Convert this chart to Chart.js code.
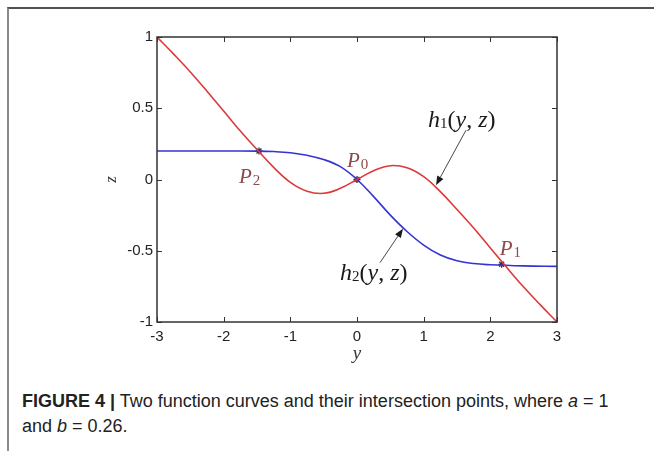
<!DOCTYPE html>
<html>
<head>
<meta charset="utf-8">
<script src="https://cdn.jsdelivr.net/npm/chart.js@4.4.1/dist/chart.umd.min.js"></script>
<style>
  html, body { margin: 0; padding: 0; background: #fff; }
  body { width: 654px; height: 451px; position: relative; overflow: hidden; }
  #frame {
    position: absolute; left: 7px; top: 7px; right: 0; bottom: 0;
    border-top: 2px solid #505050; border-left: 2px solid #8a8a8a;
  }
  #wrap { position: absolute; left: 0; top: 0; width: 654px; height: 370px; }
  #caption {
    position: absolute; left: 22px; top: 389px; width: 625px;
    font-family: "Liberation Sans", Arial, sans-serif; font-size: 18px;
    line-height: 25px; color: #222; white-space: nowrap;
  }
  #caption b { font-weight: bold; }
</style>
</head>
<body>
<div id="frame"></div>
<div id="wrap"><canvas id="curves" width="654" height="370"></canvas></div>
<div id="caption"><b>FIGURE 4 |</b> Two function curves and their intersection points, where <i>a</i> = 1<br>and <i>b</i> = 0.26.</div>
<script>
// h1(y, z) = 0 curve (red)
const h1Y = [-3, -2.75, -2.5, -2.25, -2, -1.75, -1.5, -1.25, -1, -0.75, -0.5, -0.25, 0,
             0.25, 0.5, 0.75, 1, 1.25, 1.5, 1.75, 2, 2.25, 2.5, 2.75, 3];
const h1Z = [1.0, 0.88, 0.755, 0.62, 0.48, 0.34, 0.21, 0.085, -0.02, -0.082, -0.097, -0.062, 0,
             0.062, 0.097, 0.082, 0.02, -0.085, -0.21, -0.34, -0.48, -0.62, -0.755, -0.88, -1.0];

// h2(y, z) = 0 curve (blue)
const h2Y = [-3, -2.5, -2, -1.5, -1.25, -1, -0.75, -0.5, -0.25, 0,
             0.25, 0.5, 0.75, 1, 1.25, 1.5, 1.75, 2, 2.5, 3];
const h2Z = [0.2, 0.2, 0.2, 0.199, 0.196, 0.188, 0.17, 0.14, 0.09, 0,
             -0.12, -0.25, -0.365, -0.46, -0.53, -0.57, -0.59, -0.598, -0.606, -0.61];

// intersection points
const ptNames = ['2', '0', '1'];
const ptY = [-1.47, 0, 2.17];
const ptZ = [0.2, 0, -0.595];

// axis ticks
const yTicks = [-3, -2, -1, 0, 1, 2, 3];
const zTicks = [-1, -0.5, 0, 0.5, 1];

// where the curve arrows point to (on each curve)
const h1Arrow = { y: 1.185, z: -0.04 };
const h2Arrow = { y: 0.69, z: -0.345 };

const toPts = (xs, ys) => xs.map((v, i) => ({ x: v, y: ys[i] }));

const serif = '"Liberation Serif", "Times New Roman", serif';
const sans = '"Liberation Sans", Arial, sans-serif';

function arrow(ctx, x0, y0, x1, y1) {
  const ang = Math.atan2(y1 - y0, x1 - x0);
  const len = 9, w = 3.5;
  ctx.beginPath();
  ctx.moveTo(x0, y0);
  ctx.lineTo(x1 - Math.cos(ang) * len, y1 - Math.sin(ang) * len);
  ctx.stroke();
  ctx.beginPath();
  ctx.moveTo(x1, y1);
  ctx.lineTo(x1 - Math.cos(ang) * len - Math.sin(ang) * w, y1 - Math.sin(ang) * len + Math.cos(ang) * w);
  ctx.lineTo(x1 - Math.cos(ang) * len + Math.sin(ang) * w, y1 - Math.sin(ang) * len - Math.cos(ang) * w);
  ctx.closePath();
  ctx.fill();
}

// "h1(y, z)" style label: letter, small index, then the argument list
function curveLabel(ctx, x, y, idx) {
  const parts = [
    ['italic 24px ' + serif, 'h', 0],
    ['15px ' + serif, idx, 1],
    ['24px ' + serif, '(', 0],
    ['italic 24px ' + serif, 'y', 0],
    ['24px ' + serif, ', ', 0],
    ['italic 24px ' + serif, 'z', 0],
    ['24px ' + serif, ')', 0]
  ];
  let cx = x;
  parts.forEach(([font, txt, dy]) => {
    ctx.font = font;
    ctx.fillText(txt, cx, y + dy);
    cx += ctx.measureText(txt).width;
  });
}

const overlay = {
  id: 'overlay',
  afterDatasetsDraw(chart) {
    const { ctx, chartArea: a, scales: { x, y } } = chart;
    ctx.save();

    // axes box
    ctx.strokeStyle = '#333';
    ctx.lineWidth = 1.5;
    ctx.strokeRect(a.left, a.top, a.right - a.left, a.bottom - a.top);

    // inward tick marks on all four sides
    ctx.lineWidth = 1;
    ctx.beginPath();
    yTicks.forEach(v => {
      const px = Math.round(x.getPixelForValue(v)) + 0.5;
      ctx.moveTo(px, a.bottom); ctx.lineTo(px, a.bottom - 5);
      ctx.moveTo(px, a.top); ctx.lineTo(px, a.top + 5);
    });
    zTicks.forEach(v => {
      const py = Math.round(y.getPixelForValue(v)) + 0.5;
      ctx.moveTo(a.left, py); ctx.lineTo(a.left + 5, py);
      ctx.moveTo(a.right, py); ctx.lineTo(a.right - 5, py);
    });
    ctx.stroke();

    // intersection labels P0, P1, P2
    const offs = [[-20, 32], [-10, -13], [-2, -9]];
    ctx.fillStyle = '#8e4a4a';
    ctx.textBaseline = 'alphabetic';
    ptNames.forEach((n, i) => {
      const px = x.getPixelForValue(ptY[i]) + offs[i][0];
      const py = y.getPixelForValue(ptZ[i]) + offs[i][1];
      ctx.font = 'italic 21px ' + serif;
      ctx.fillText('P', px, py);
      const w = ctx.measureText('P').width;
      ctx.font = '15px ' + serif;
      ctx.fillText(n, px + w + 1, py + 2);
    });

    // curve labels with arrows
    ctx.fillStyle = '#1a1a1a';
    ctx.strokeStyle = '#333';
    ctx.lineWidth = 0.9;
    let hx = x.getPixelForValue(h1Arrow.y), hy = y.getPixelForValue(h1Arrow.z);
    arrow(ctx, hx + 30, hy - 55, hx, hy);
    curveLabel(ctx, hx - 8, hy - 58, '1');

    hx = x.getPixelForValue(h2Arrow.y); hy = y.getPixelForValue(h2Arrow.z);
    arrow(ctx, hx - 23, hy + 34, hx, hy);
    curveLabel(ctx, hx - 63, hy + 51, '2');

    ctx.restore();
  }
};

new Chart(document.getElementById('curves'), {
  type: 'line',
  data: {
    datasets: [
      {
        label: 'h1',
        data: toPts(h1Y, h1Z),
        borderColor: '#dc3a3a',
        borderWidth: 1.6,
        pointRadius: 0,
        tension: 0.4
      },
      {
        label: 'h2',
        data: toPts(h2Y, h2Z),
        borderColor: '#3434d2',
        borderWidth: 1.6,
        pointRadius: 0,
        tension: 0.4
      },
      {
        label: 'P',
        type: 'scatter',
        data: toPts(ptY, ptZ),
        pointStyle: 'star',
        pointRadius: 3.5,
        borderColor: '#3a2a3a',
        borderWidth: 1.3,
        backgroundColor: '#3a2a3a'
      }
    ]
  },
  options: {
    responsive: false,
    animation: false,
    events: [],
    layout: { padding: { left: 101, right: 97, top: 37, bottom: 5 } },
    plugins: { legend: { display: false }, tooltip: { enabled: false } },
    scales: {
      x: {
        type: 'linear',
        min: -3, max: 3,
        afterFit: s => { s.height = 43; },
        afterBuildTicks: s => { s.ticks = yTicks.map(v => ({ value: v })); },
        grid: { display: false, drawTicks: false },
        border: { display: false },
        ticks: {
          padding: 6,
          color: '#222',
          font: { family: sans, size: 15 },
          callback: v => String(v)
        },
        title: {
          display: true, text: 'y', color: '#333', padding: 0,
          font: { family: serif, size: 19, style: 'italic' }
        }
      },
      y: {
        type: 'linear',
        min: -1, max: 1,
        afterFit: s => { s.width = 56; },
        afterBuildTicks: s => { s.ticks = zTicks.map(v => ({ value: v })); },
        grid: { display: false, drawTicks: false },
        border: { display: false },
        ticks: {
          padding: 4,
          color: '#222',
          font: { family: sans, size: 15 },
          callback: v => String(v)
        },
        title: {
          display: true, text: 'z', color: '#333', padding: 0,
          font: { family: serif, size: 17, style: 'italic' }
        }
      }
    }
  },
  plugins: [overlay]
});
</script>
</body>
</html>
